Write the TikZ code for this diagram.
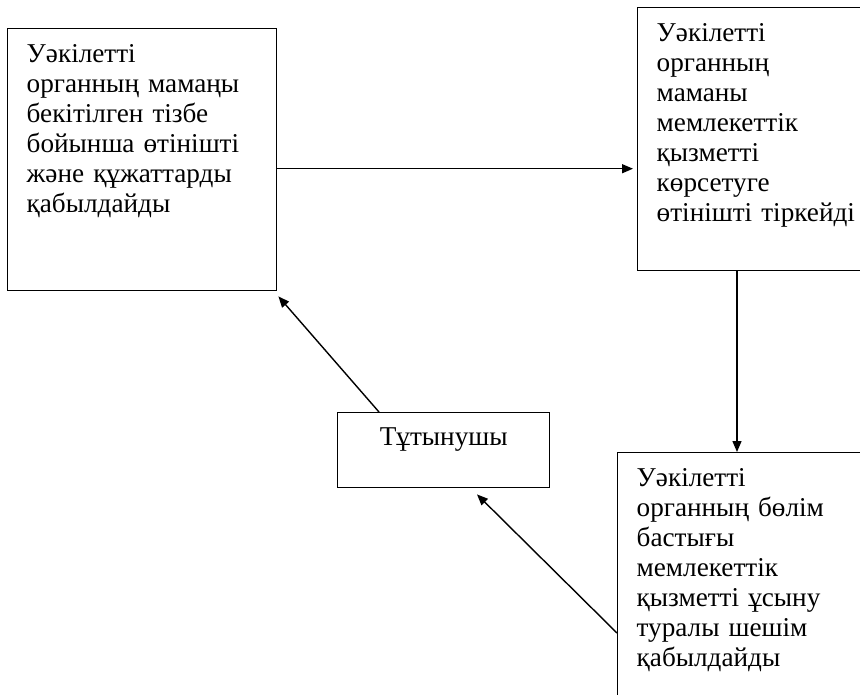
\documentclass[tikz,border=0pt]{standalone}
\usepackage{fontspec}
\setmainfont{Liberation Serif}
\usetikzlibrary{arrows.meta}

\begin{document}
\begin{tikzpicture}[
    x=1pt, y=-1pt,
    box/.style={draw, line width=1.4pt, anchor=north west, align=left,
      inner xsep=19pt, inner ysep=14pt, text height=20pt,
      font=\fontsize{27.2}{30}\selectfont},
    arr/.style={-{Triangle[length=11pt,width=9pt]}, line width=1.4pt}
  ]
    \path[use as bounding box, clip] (0,0) rectangle (860,694);

    \node[box, text width=231pt, text depth=214pt] (a) at (7,28)
      {Уәкілетті\\органның мамаңы\\бекітілген тізбе\\бойынша өтінішті\\және құжаттарды\\қабылдайды};
    \node[box, text width=224pt, text depth=215pt] (b) at (637,7)
      {Уәкілетті\\органның\\маманы\\мемлекеттік\\қызметті\\көрсетуге\\өтінішті тіркейді};
    \node[box, text width=224pt, text depth=212pt] (c) at (617,452)
      {Уәкілетті\\органның бөлім\\бастығы\\мемлекеттік\\қызметті ұсыну\\туралы шешім\\қабылдайды};
    \node[box, align=center, text width=174pt, inner ysep=12pt, text height=21pt,
      text depth=30pt] (d) at (337,412) {Тұтынушы};

    \draw[arr, shorten >=4pt] ([yshift=-9pt]a.east) coordinate (ab) -- (ab -| b.west);
    \draw[arr] ([xshift=100pt]b.south west) -- ([xshift=120pt]c.north west);
    \draw[arr] ([yshift=-181pt]c.north west) -- ([xshift=140pt,yshift=-6pt]d.south west);
    \draw[arr] ([xshift=42pt]d.north west) -- ([xshift=1pt,yshift=-5pt]a.south east);
  \end{tikzpicture}
\end{document}
